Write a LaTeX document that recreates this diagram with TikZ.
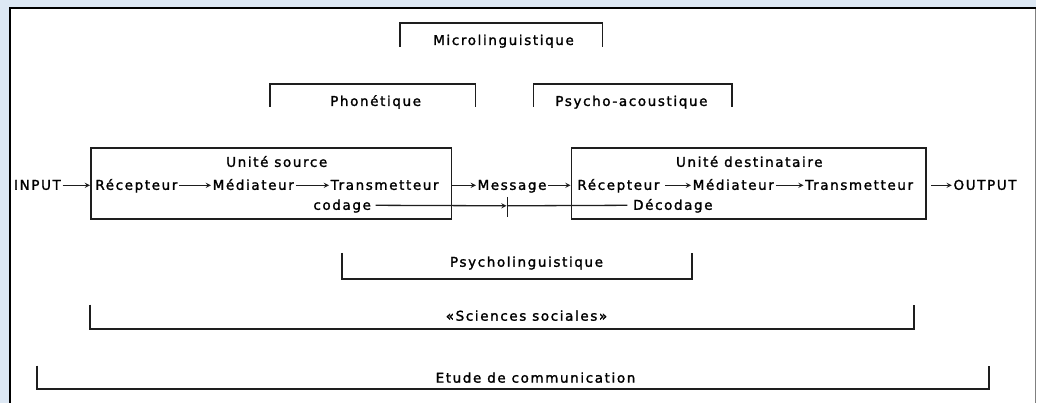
\documentclass[tikz,border=0pt]{standalone}
\usepackage{fontspec}
\setmainfont{DejaVu Sans}[LetterSpace=12,FakeBold=1.6]
\usepackage{tikz}
\definecolor{panelblue}{RGB}{221,232,244}
\definecolor{ink}{RGB}{30,30,30}
\tikzset{
  txt/.style={inner sep=1.5pt, anchor=base, text height=11pt, text depth=2pt,
              font=\fontsize{13.5}{16}\selectfont},
  unitbox/.style={draw=ink, line width=1.8pt, minimum width=361pt, minimum height=71pt},
  brk/.style={draw=ink, line width=1.8pt},
  link/.style={->, >=stealth, line width=1.3pt, ink}
}

\begin{document}
\begin{tikzpicture}[x=1pt,y=1pt]
% frame
\fill[panelblue] (0,0) rectangle (1037,-403);
\fill[white] (10,-8) rectangle (1037,-403);
\draw[line width=2pt] (10,-403) |- (1037,-8);
\draw[gray, line width=1pt] (1036,-9) -- (1036,-403);
\useasboundingbox (0,0) rectangle (1037,-403);

% the two units
\node[unitbox] (src) at (271.5,-183.5) {};
\node[unitbox, minimum width=355pt] (dst) at (749.5,-183.5) {};
\node[txt] (srct) at (277,-167) {Unité source};
\node[txt] (dstt) at (750,-167) {Unité destinataire};

% chain
\node[txt] (inp) at (37.5,-190) {INPUT};
\node[txt] (rec1) at (136.5,-190) {Récepteur};
\node[txt] (med1) at (253.5,-190) {Médiateur};
\node[txt] (tra1) at (385,-190) {Transmetteur};
\node[txt] (msg) at (512.5,-190) {Message};
\node[txt] (rec2) at (619,-190) {Récepteur};
\node[txt] (med2) at (734,-190) {Médiateur};
\node[txt] (tra2) at (860,-190) {Transmetteur};
\node[txt] (out) at (986,-190) {OUTPUT};

\draw[link] (inp.east) -- (inp.east -| src.west);
\draw[link] (rec1.east) -- (med1.west);
\draw[link] (med1.east) -- (tra1.west);
\draw[link] (tra1.east -| src.east) -- (msg.west);
\draw[link] (msg.east) -- (msg.east -| dst.west);
\draw[link] ([xshift=4pt]rec2.east) -- (med2.west);
\draw[link] (med2.east) -- (tra2.west);
\draw[link] ([xshift=4pt]tra2.east -| dst.east) -- (out.west);

% codage / decodage
\node[txt] (cod) at (342.5,-210) {codage};
\node[txt] (dec) at (673.5,-210) {Décodage};
\coordinate (cut) at (508,-206);
\draw[link] ([xshift=3pt]cod.east) -- ([xshift=-1pt]cut);
\draw[line width=1.3pt, ink] ([xshift=-4pt]dec.west) -- (cut);
\draw[line width=1.8pt, ink] ([yshift=9pt]cut) -- ([yshift=-11pt]cut);

% brackets above
\node[txt] (micro) at (504,-45) {Microlinguistique};
\draw[brk] (400,-47) |- (603,-23) -- (603,-47);
\node[txt] (phon) at (376,-106) {Phonétique};
\draw[brk] (270,-107) |- (476,-84) -- (476,-107);
\node[txt] (acou) at (632,-106) {Psycho-acoustique};
\draw[brk] (534,-107) |- (733,-84) -- (733,-107);

% brackets below
\node[txt] (psyl) at (527,-267) {Psycholinguistique};
\draw[brk] (342,-253) |- (693,-279) -- (693,-253);
\node[txt] (soc) at (527,-321) {«Sciences sociales»};
\draw[brk] (90,-305) |- (915,-329) -- (915,-305);
\node[txt] (etude) at (536,-383) {Etude de communication};
\draw[brk] (37,-366) |- (990,-389) -- (990,-366);
\end{tikzpicture}
\end{document}
